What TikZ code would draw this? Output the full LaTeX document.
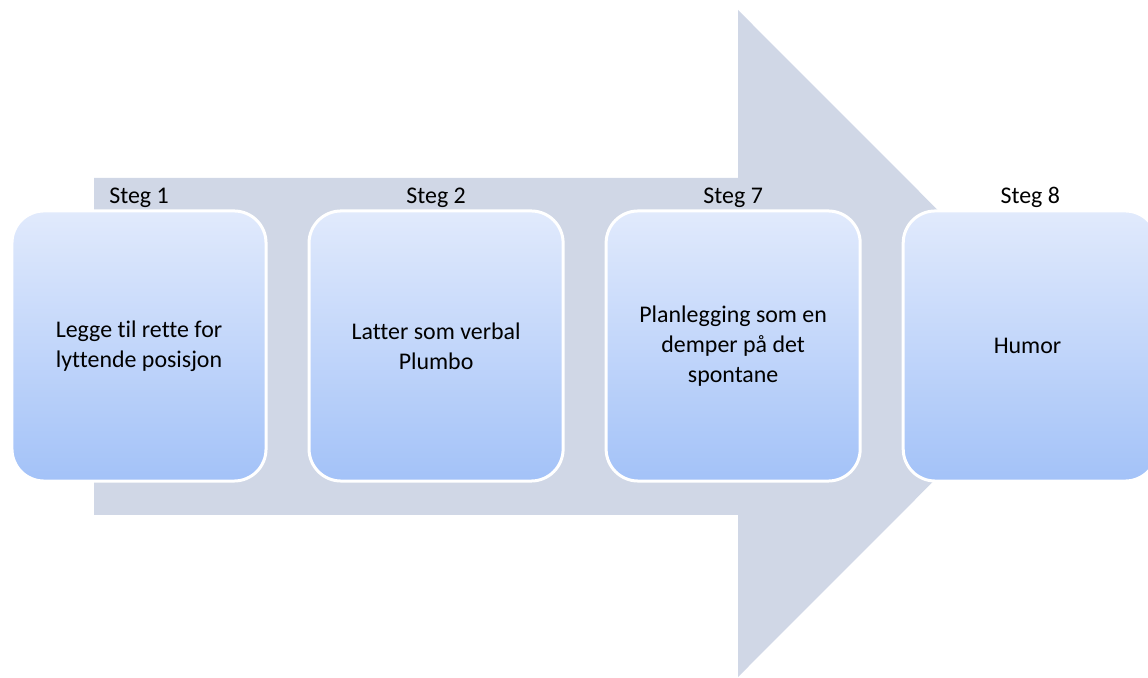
\documentclass[tikz,border=0pt]{standalone}
\usepackage{fontspec}
\setmainfont[Ligatures=NoCommon]{Carlito}
\usepackage{tikz}
\usetikzlibrary{positioning}
\definecolor{arrowgray}{RGB}{208,215,230}
\definecolor{boxtop}{RGB}{225,234,252}
\definecolor{boxbottom}{RGB}{163,194,248}

\begin{document}
\begin{tikzpicture}[x = 0.025cm, y = 0.025cm,
    stepbox/.style = { draw = white, line width = 0.075cm, rounded corners = 0.8cm,
      top color = boxtop, bottom color = boxbottom, align = center,
      minimum width = 6.35cm, minimum height = 6.75cm,
      font = \fontsize{17}{21.5}\selectfont },
    steglabel/.style = { inner sep = 1pt, font = \fontsize{17}{20}\selectfont }]
      \clip (0,0) rectangle (1148,677);
      \fill [arrowgray] (94,499) -- (738,499) -- (738,667) -- (1071,333.5)
        -- (738,0) -- (738,162) -- (94,162) -- cycle;
      \node [stepbox] (step1) at (139,331) { Legge til rette for \\ lyttende posisjon };
      \node [stepbox, right = 1.0cm of step1] (step2) { Latter som verbal \\ Plumbo };
      \node [stepbox, right = 1.0cm of step2] (step7) { Planlegging som en \\ demper på det \\ spontane };
      \node [stepbox, right = 1.0cm of step7] (step8) { Humor };
      \node [steglabel, above = 0pt of step1] { Steg 1 };
      \node [steglabel, above = 0pt of step2] { Steg 2 };
      \node [steglabel, above = 0pt of step7] { Steg 7 };
      \node [steglabel, above = 0pt of step8] { Steg 8 };
    \end{tikzpicture}
\end{document}
